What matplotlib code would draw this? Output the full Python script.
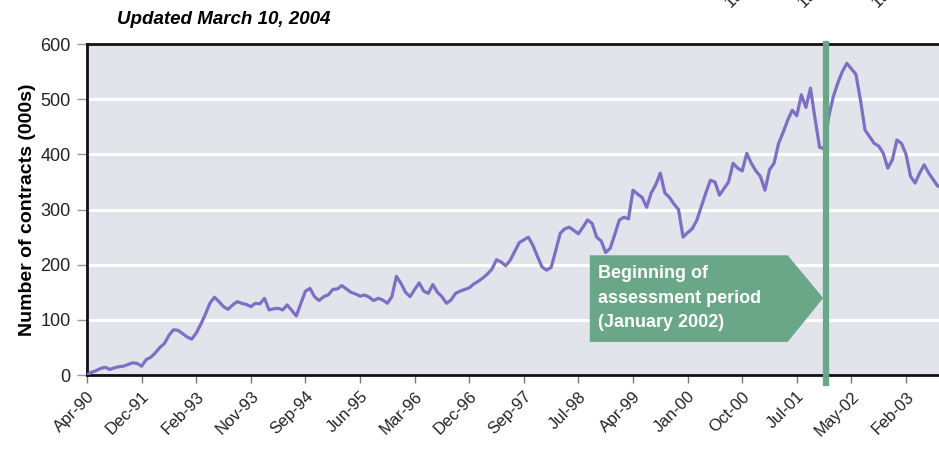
import matplotlib
matplotlib.use("Agg")
import matplotlib.pyplot as plt
from matplotlib.patches import Polygon

plt.rcParams["font.family"] = ["Liberation Sans", "DejaVu Sans"]

# weekly open interest, thousands of contracts (12 points per tick)
contracts = [
    0, 5, 8, 12, 14, 10, 13, 15, 16, 19, 22, 21,
    16, 28, 32, 40, 50, 57, 72, 82, 81, 75, 69, 65,
    76, 92, 110, 130, 141, 133, 124, 119, 127, 133, 130, 128,
    124, 130, 129, 139, 118, 120, 121, 118, 127, 117, 107, 130,
    152, 157, 142, 135, 142, 145, 155, 156, 162, 156, 150, 147,
    143, 145, 141, 135, 139, 136, 130, 142, 179, 166, 150, 142,
    155, 167, 152, 148, 164, 150, 142, 130, 136, 148, 152, 155,
    158, 165, 170, 176, 183, 192, 209, 205, 198, 208, 224, 240,
    245, 250, 235, 215, 196, 190, 195, 225, 257, 265, 268, 262,
    256, 268, 281, 275, 250, 243, 222, 230, 255, 281, 286, 283,
    335, 328, 322, 304, 330, 345, 366, 330, 322, 310, 300, 250,
    258, 265, 280, 305, 330, 353, 350, 326, 338, 350, 384, 375,
    370, 402, 384, 370, 360, 335, 372, 384, 420, 440, 462, 480,
    470, 508, 485, 520, 465, 413, 410, 468, 504, 529, 550, 565,
    555, 545, 498, 444, 432, 420, 415, 402, 375, 390, 426, 420,
    400, 360, 348, 366, 381, 366, 354, 342, 345,
]
tick_labels = [
    "Apr-90", "Dec-91", "Feb-93", "Nov-93", "Sep-94", "Jun-95", "Mar-96", "Dec-96",
    "Sep-97", "Jul-98", "Apr-99", "Jan-00", "Oct-00", "Jul-01", "May-02", "Feb-03",
]
points_per_tick = 12
assessment_start = 162.4  # January 2002 on the index axis

LINE_COLOR = "#7f6fc4"
GREEN = "#6aa688"
PANEL_BG = "#e1e4ea"

fig = plt.figure(figsize=(9.39, 4.51), dpi=100)
ax = fig.add_axes([0.0927, 0.1685, 0.9303, 0.7339])
ax.set_facecolor(PANEL_BG)

ax.plot(range(len(contracts)), contracts, color=LINE_COLOR, lw=2.3, zorder=3)

ax.set_xlim(0, 192)
ax.set_ylim(0, 600)
ax.set_yticks(range(0, 601, 100))
ax.set_xticks(range(0, points_per_tick * len(tick_labels), points_per_tick))
ax.set_xticklabels(tick_labels, rotation=45, ha="right", rotation_mode="anchor")

for y in range(100, 600, 100):
    ax.axhline(y, color="white", lw=2.2, zorder=1)

for side in ("left", "bottom", "top"):
    ax.spines[side].set_linewidth(2.0)
    ax.spines[side].set_color("#111111")
ax.spines["right"].set_visible(False)

ax.tick_params(axis="x", direction="out", length=6, width=1, color="#777777",
               labelsize=12, labelcolor="#222222", pad=4)
ax.tick_params(axis="y", direction="out", length=7, width=1, color="#999999",
               labelsize=13, labelcolor="#222222", pad=5)

ax.set_ylabel("Number of contracts (000s)", fontsize=14, fontweight="bold", labelpad=3)

# start of assessment period marker
ax.axvline(assessment_start, ymin=-0.025, ymax=1.0, color=GREEN, lw=4.5,
           zorder=5, clip_on=False)

arrow = Polygon([(110.5, 60), (110.5, 217), (154.0, 217), (161.8, 139.5), (154.0, 60)],
                closed=True, facecolor=GREEN, edgecolor="none", zorder=4)
ax.add_patch(arrow)
ax.text(112.2, 139.5, "Beginning of\nassessment period\n(January 2002)",
        color="white", fontsize=13, fontweight="bold", va="center", ha="left",
        linespacing=1.55, zorder=6)

fig.text(117 / 939, 1 - 20 / 451, "Updated March 10, 2004", fontsize=13.5,
         fontweight="bold", fontstyle="italic", va="center", ha="left")

# partly visible labels from the chart above
for px in (733, 806, 880):
    fig.text(px / 939, 1 - 10 / 451, "1999", fontsize=12, rotation=45,
             ha="left", va="bottom", rotation_mode="anchor", color="#222222")

fig.savefig("out.png", dpi=100)
